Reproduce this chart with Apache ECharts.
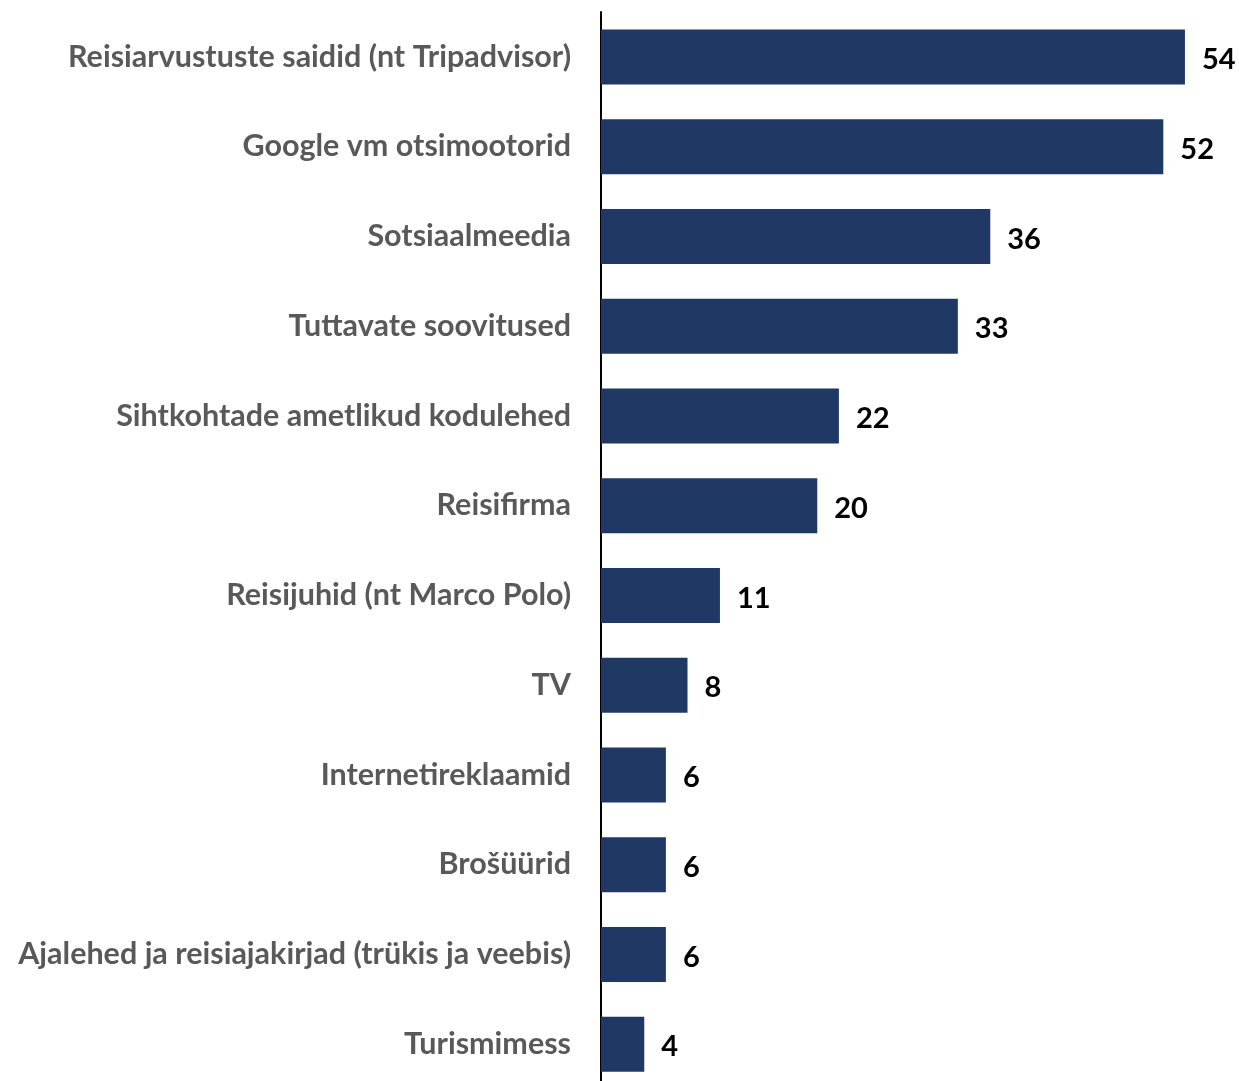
<!DOCTYPE html>
<html>
<head>
<meta charset="utf-8">
<script src="https://cdn.jsdelivr.net/npm/echarts@6/dist/echarts.min.js"></script>
<style>
html,body{margin:0;padding:0;background:#fff;overflow:hidden;}
#chart{width:1239px;height:1090px;}
</style>
</head>
<body>
<div id="chart"></div>
<script>
const categories = [
  "Reisiarvustuste saidid (nt Tripadvisor)",
  "Google vm otsimootorid",
  "Sotsiaalmeedia",
  "Tuttavate soovitused",
  "Sihtkohtade ametlikud kodulehed",
  "Reisifirma",
  "Reisijuhid (nt Marco Polo)",
  "TV",
  "Internetireklaamid",
  "Brošüürid",
  "Ajalehed ja reisiajakirjad (trükis ja veebis)",
  "Turismimess"
];
const values = [54, 52, 36, 33, 22, 20, 11, 8, 6, 6, 6, 4];

const chart = echarts.init(document.getElementById('chart'), null, {renderer: 'canvas'});
chart.setOption({
  animation: false,
  backgroundColor: '#ffffff',
  grid: {left: 601, top: 12, width: 638, height: 1077, containLabel: false},
  xAxis: {
    type: 'value', min: 0, max: 59, show: false
  },
  yAxis: {
    type: 'category',
    data: categories,
    inverse: true,
    axisLine: {show: true, lineStyle: {color: '#000000', width: 2}},
    axisTick: {show: false},
    axisLabel: {
      margin: 30,
      color: '#595959',
      fontFamily: 'Lato',
      fontWeight: 'bold',
      fontSize: 30.5
    },
    splitLine: {show: false}
  },
  series: [{
    type: 'bar',
    data: values,
    barWidth: 55,
    itemStyle: {color: '#203864'},
    label: {
      show: true,
      position: 'right',
      distance: 17,
      color: '#000000',
      fontFamily: 'Lato',
      fontWeight: 'bold',
      fontSize: 29,
      offset: [0, 3]
    }
  }]
});
</script>
</body>
</html>
